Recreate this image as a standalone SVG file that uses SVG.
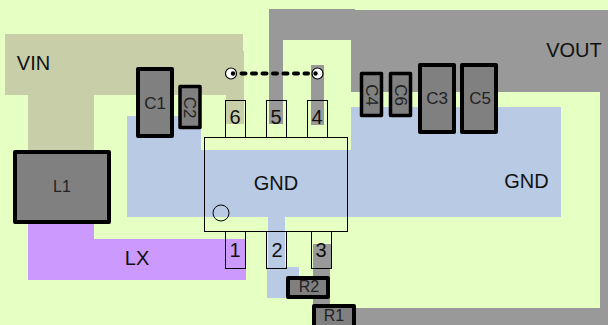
<svg xmlns="http://www.w3.org/2000/svg" width="608" height="325" viewBox="0 0 608 325">
<style>
.bg{fill:#e6ffc2}
.vin{fill:#c8cfa8}
.vout{fill:#999999}
.gnd{fill:#b8cae4}
.lx{fill:#cc99ff}
.pin,.chip{fill:none;stroke:#000;stroke-width:1}
.part{fill:#808080;stroke:#000;stroke-width:4;stroke-linejoin:round}
.small{stroke-width:3.500}
text{font-family:"Liberation Sans",Arial,sans-serif;fill:#111;text-anchor:middle}
.t20{font-size:20px}
.t17{font-size:17px;fill:#222}
.t16{font-size:16px;fill:#222}
</style>
<rect class="bg" width="608" height="325"/>
<g id="net-vin">
<path class="vin" d="M5 34H243V51H244V124H226V95H94V150H28V95H5Z"/>
</g>
<g id="net-vout">
<path class="vout" d="M269 9H355V10H608V325H356V308H600V92H351V40H283V124H269Z"/>
<rect class="vout" x="311" y="65" width="13" height="60"/>
<rect class="vout" x="313" y="244" width="18" height="24"/>
<rect class="vout" x="313" y="268" width="17" height="40"/>
</g>
<g id="net-gnd">
<path class="gnd" d="M127 116H201V150H351V107H561V217H285V267H299V298H267V267H268V217H127Z"/>
</g>
<g id="net-lx">
<path class="lx" d="M28 222H94V239H246V280H28Z"/>
</g>
<g id="U1">
<rect class="chip" x="204.500" y="137.500" width="143" height="94"/>
<circle class="chip" cx="221" cy="213" r="8"/>
<rect class="pin" x="225.500" y="100.500" width="20" height="37"/>
<rect class="pin" x="266.500" y="100.500" width="20" height="37"/>
<rect class="pin" x="307.500" y="100.500" width="20" height="37"/>
<rect class="pin" x="225.500" y="231.500" width="20" height="37"/>
<rect class="pin" x="266.500" y="231.500" width="20" height="37"/>
<rect class="pin" x="311.500" y="231.500" width="20" height="37"/>
<text class="t20" x="235" y="124">6</text>
<text class="t20" x="276" y="124">5</text>
<text class="t20" x="317" y="124">4</text>
<text class="t20" x="235" y="257">1</text>
<text class="t20" x="277" y="257">2</text>
<text class="t20" x="321" y="257">3</text>
<text class="t20" x="276" y="190">GND</text>
</g>
<g id="C1"><rect class="part" x="138" y="69" width="34" height="67"/><text class="t17" x="155" y="109">C1</text></g>
<g id="C2"><rect class="part small" x="180" y="86.500" width="20" height="41"/><text class="t17" transform="translate(184 107.500) rotate(90)">C2</text></g>
<g id="C4"><rect class="part small" x="361.500" y="73.500" width="20" height="42"/><text class="t17" transform="translate(366 95) rotate(90)">C4</text></g>
<g id="C6"><rect class="part small" x="390.500" y="73.500" width="20" height="42"/><text class="t17" transform="translate(395 95) rotate(90)">C6</text></g>
<g id="C3"><rect class="part" x="420" y="65" width="34" height="67"/><text class="t17" x="437" y="104">C3</text></g>
<g id="C5"><rect class="part" x="462" y="65" width="34" height="67"/><text class="t17" x="480" y="104">C5</text></g>
<g id="L1"><rect class="part" x="15" y="152" width="94" height="70"/><text class="t16" x="62" y="192">L1</text></g>
<g id="R2"><rect class="part" x="288" y="278" width="40" height="19"/><text class="t16" x="309" y="292">R2</text></g>
<g id="R1"><rect class="part" x="314" y="306" width="40" height="21"/><text class="t16" x="334" y="321">R1</text></g>
<g id="labels">
<text class="t20" x="33.500" y="70">VIN</text>
<text class="t20" x="574" y="57">VOUT</text>
<text class="t20" x="526.500" y="188">GND</text>
<text class="t20" x="137" y="265">LX</text>
</g>
<g id="connectors">
<line x1="241.500" y1="73.500" x2="308" y2="73.500" stroke="#000" stroke-width="4" stroke-dasharray="4 6.500" stroke-linecap="round"/>
<circle cx="231" cy="73.500" r="5.500" fill="#fff" stroke="#000" stroke-width="1.200"/>
<circle cx="317.500" cy="73.500" r="5.500" fill="#fff" stroke="#000" stroke-width="1.200"/>
<circle cx="233" cy="73.500" r="2.200" fill="#000"/>
<circle cx="315.500" cy="73.500" r="2.200" fill="#000"/>
</g>
</svg>
